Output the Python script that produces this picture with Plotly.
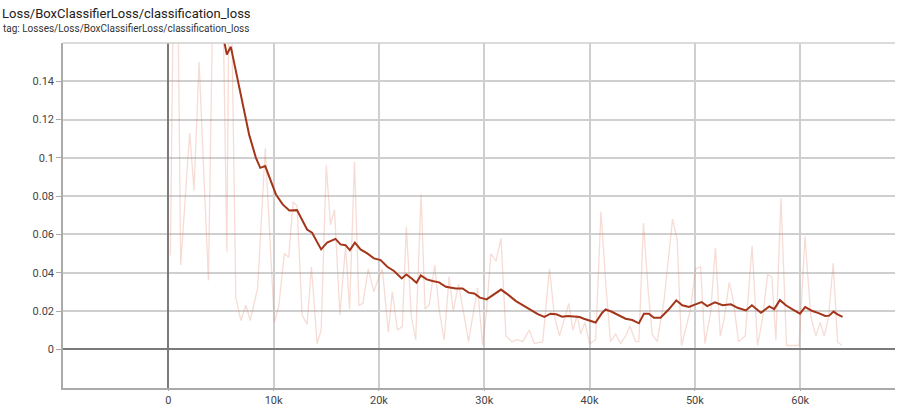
import plotly.graph_objects as go

title_text = "Loss/BoxClassifierLoss/classification_loss"
subtitle_text = "tag: Losses/Loss/BoxClassifierLoss/classification_loss"

raw_steps = [200, 700, 1175, 2030, 2440, 2920, 3810, 4500, 5080, 5560, 5840, 6410, 6890, 7365,
             7780, 8480, 9206, 10060, 10480, 11015, 11430, 11850, 12220, 12700, 13175, 13590,
             14130, 14510, 15000, 15400, 15780, 16290, 16830, 17210, 17680, 18100, 18480, 18980,
             19520, 19940, 20320, 20890, 21270, 21750, 22220, 22600, 23080, 23490, 24000, 24380,
             24760, 25300, 25710, 26190, 26670, 27050, 27560, 27940, 28510, 28890, 29370, 29840,
             30220, 30630, 31110, 31590, 32060, 32630, 33080, 33650, 34280, 34760, 35550, 36190,
             36670, 37140, 37620, 38030, 38420, 38830, 39150, 39560, 40000, 40570, 41080, 41580,
             41990, 42470, 42940, 43420, 43830, 44370, 44680, 45120, 45570, 45950, 46420, 47060,
             47880, 48320, 48730, 49180, 49590, 50060, 50540, 50950, 51490, 51950, 52410, 52780,
             53260, 53640, 54140, 54780, 55430, 55950, 56420, 56900, 57310, 57690, 58170, 58700,
             59270, 59900, 60450, 61010, 61490, 61900, 62280, 62690, 63130, 63540, 63960]
raw_values = [0.049, 0.30, 0.044, 0.113, 0.083, 0.150, 0.036, 0.28, 0.22, 0.051, 0.24, 0.027, 0.015, 0.023,
              0.015, 0.032, 0.105, 0.014, 0.022, 0.050, 0.048, 0.077, 0.075, 0.018, 0.013, 0.043,
              0.003, 0.010, 0.096, 0.065, 0.073, 0.018, 0.054, 0.021, 0.098, 0.023, 0.024, 0.042,
              0.030, 0.037, 0.042, 0.009, 0.030, 0.010, 0.012, 0.064, 0.017, 0.005, 0.081, 0.021,
              0.023, 0.044, 0.021, 0.005, 0.038, 0.020, 0.034, 0.022, 0.004, 0.017, 0.032, 0.002,
              0.020, 0.050, 0.046, 0.058, 0.007, 0.004, 0.005, 0.004, 0.010, 0.003, 0.004, 0.042,
              0.017, 0.007, 0.016, 0.024, 0.010, 0.018, 0.008, 0.014, 0.003, 0.005, 0.072, 0.031,
              0.004, 0.008, 0.003, 0.007, 0.012, 0.004, 0.004, 0.066, 0.030, 0.008, 0.004, 0.025,
              0.068, 0.057, 0.002, 0.012, 0.021, 0.042, 0.043, 0.003, 0.019, 0.053, 0.007, 0.016,
              0.035, 0.026, 0.004, 0.007, 0.054, 0.002, 0.016, 0.039, 0.038, 0.005, 0.079, 0.002,
              0.002, 0.002, 0.059, 0.017, 0.007, 0.014, 0.007, 0.017, 0.045, 0.004, 0.002]

smooth_steps = [200, 1200, 2400, 3600, 4600, 5300, 5555, 5937, 6410, 7050, 7680, 8320, 8730, 9200,
                9590, 10220, 10860, 11490, 12220, 13175, 13650, 14510, 15080, 15870, 16350, 16825,
                17240, 17715, 18250, 18890, 19520, 20160, 20790, 21430, 22160, 22600, 23110, 23560,
                23970, 24540, 25080, 25710, 26350, 26830, 27300, 27940, 28510, 29050, 29590, 30220,
                30950, 31590, 32220, 33010, 33810, 34440, 35080, 35710, 36290, 36830, 37400, 37940,
                38570, 39050, 39460, 40570, 41200, 41520, 42150, 42780, 43420, 44050, 44680, 45160,
                45630, 46110, 46740, 47530, 48230, 48800, 49430, 50060, 50630, 51170, 51900, 52630,
                53420, 54050, 54840, 55410, 56270, 57060, 57530, 58070, 58640, 59270, 59970, 60470,
                61170, 61800, 62370, 62750, 63160, 63540, 64020]
smooth_values = [0.30, 0.26, 0.22, 0.19, 0.17, 0.161, 0.154, 0.158, 0.145, 0.128, 0.112, 0.100, 0.0948, 0.0957,
                 0.0904, 0.0809, 0.0757, 0.0725, 0.0727, 0.0626, 0.0609, 0.0522, 0.0557, 0.0577, 0.0548, 0.0544,
                 0.0518, 0.0557, 0.0522, 0.0501, 0.0475, 0.0466, 0.0431, 0.0409, 0.0370, 0.0391, 0.0370, 0.0348,
                 0.0386, 0.0365, 0.0357, 0.0350, 0.0327, 0.0322, 0.0318, 0.0318, 0.0296, 0.0292, 0.0270, 0.0261,
                 0.0287, 0.0312, 0.0287, 0.0252, 0.0226, 0.0205, 0.0184, 0.0169, 0.0186, 0.0183, 0.0170, 0.0174,
                 0.0169, 0.0169, 0.0160, 0.0140, 0.0191, 0.0209, 0.0195, 0.0177, 0.0160, 0.0153, 0.0136, 0.0186,
                 0.0186, 0.0165, 0.0165, 0.0209, 0.0256, 0.0230, 0.0221, 0.0235, 0.0247, 0.0226, 0.0245, 0.0230,
                 0.0235, 0.0217, 0.0203, 0.0230, 0.0191, 0.0224, 0.0210, 0.0257, 0.0230, 0.0209, 0.0186, 0.0221,
                 0.0200, 0.0188, 0.0174, 0.0176, 0.0197, 0.0183, 0.0170]

x_tickvals = [0, 10000, 20000, 30000, 40000, 50000, 60000]
x_ticktext = ["0", "10k", "20k", "30k", "40k", "50k", "60k"]
y_tickvals = [0, 0.02, 0.04, 0.06, 0.08, 0.1, 0.12, 0.14]
y_ticktext = ["0", "0.02", "0.04", "0.06", "0.08", "0.1", "0.12", "0.14"]

grid_color = "#cfcfcf"
zero_color = "#7a7a7a"

fig = go.Figure()
fig.add_trace(go.Scatter(x=raw_steps, y=raw_values, mode="lines",
                         line=dict(color="rgba(222,130,105,0.28)", width=1.3),
                         hoverinfo="skip", showlegend=False))
fig.add_trace(go.Scatter(x=smooth_steps, y=smooth_values, mode="lines",
                         line=dict(color="#a3361a", width=2),
                         showlegend=False))

fig.update_layout(
    width=898, height=406,
    margin=dict(l=63, r=3, t=43, b=18),
    paper_bgcolor="white", plot_bgcolor="white",
    font=dict(family="Roboto, Arial, sans-serif", size=11, color="#444"),
    xaxis=dict(range=[-10000, 69000], tickvals=x_tickvals, ticktext=x_ticktext,
               showgrid=True, gridcolor=grid_color, gridwidth=1.5,
               zeroline=True, zerolinecolor=zero_color, zerolinewidth=1.5,
               showline=True, linecolor="#aaaaaa", linewidth=1.5,
               ticks="outside", ticklen=1, tickcolor="#aaaaaa",
               automargin=False,
               tickfont=dict(size=11, color="#444")),
    yaxis=dict(range=[-0.0202, 0.16], tickvals=y_tickvals, ticktext=y_ticktext,
               showgrid=True, gridcolor=grid_color, gridwidth=1.5,
               zeroline=True, zerolinecolor=zero_color, zerolinewidth=2,
               showline=True, linecolor="#aaaaaa", linewidth=1.5,
               ticks="outside", ticklen=5, tickcolor="#aaaaaa",
               automargin=False,
               tickfont=dict(size=11, color="#444")),
    shapes=[dict(type="line", xref="paper", yref="paper", x0=0, x1=1, y0=1, y1=1,
                 line=dict(color=grid_color, width=1.5))],
    annotations=[
        dict(text=title_text, xref="paper", yref="paper", x=-63/832, y=1 + (43 - 13) / 345,
             xanchor="left", yanchor="middle", showarrow=False,
             font=dict(size=13, color="#212121")),
        dict(text=subtitle_text, xref="paper", yref="paper", x=-62/832, y=1 + (43 - 28) / 345,
             xanchor="left", yanchor="middle", showarrow=False,
             font=dict(size=10, color="#333")),
    ],
)

fig.write_html("out.html", config={"displayModeBar": False},
               post_script="document.body.style.margin='0';")
